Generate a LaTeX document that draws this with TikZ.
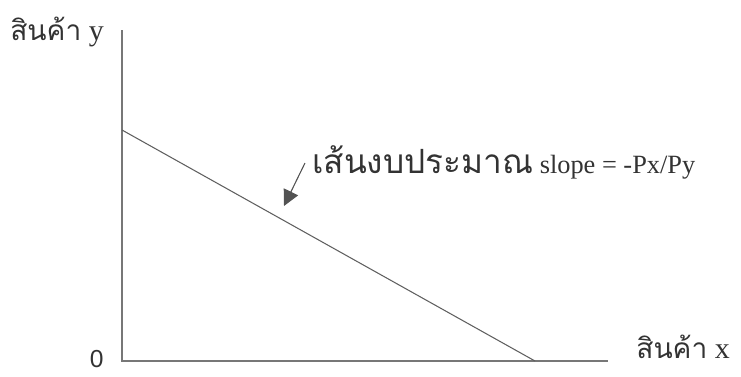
\documentclass[tikz,border=0pt]{standalone}
\usepackage{fontspec}
\setmainfont{Liberation Serif}
\newfontfamily\thaifont[Script=Thai]{Loma}
\newfontfamily\zerofont{Liberation Sans}
\usetikzlibrary{arrows.meta}
\definecolor{axisgray}{HTML}{777777}
\newcommand{\thaitext}[2]{{\thaifont\fontsize{#1}{#1}\selectfont #2}}
\newcommand{\lattext}[2]{{\fontsize{#1}{#1}\selectfont #2}}

\begin{document}
\begin{tikzpicture}[
    x=0.02cm, y=-0.02cm,
    axis/.style={draw=axisgray, line width=0.6pt},
    budget/.style={draw=axisgray!80!black, line width=0.6pt},
    pointer/.style={-{Triangle[length=9pt, width=9pt]}, draw=axisgray!70!black, fill=black, line width=0.6pt},
    lbl/.style={inner sep=0pt, text=black!80},
]
    \useasboundingbox (0,0) rectangle (741,376);

    % axes
    \coordinate (origin) at (122,361);
    \coordinate (ytop)   at (122,30);
    \coordinate (xend)   at (608,361);
    \draw[axis] (ytop) -- (origin) -- (xend);

    % budget line
    \coordinate (yint) at (122,130);
    \coordinate (xint) at (535,361);
    \draw[budget] (yint) -- (xint);

    % labels
    \node[lbl, anchor=base west] (ylabel) at (10,40) {\thaitext{16}{สินค้า}\lattext{17}{ y}};
    \node[lbl, anchor=base west] (xlabel) at (636,358) {\thaitext{16}{สินค้า}\lattext{17}{ x}};
    \node[lbl, anchor=base east] (zero)   at (104,367) {\lattext{14}{\zerofont 0}};
    \node[lbl, anchor=base west] (bltext) at (312,173) {\thaitext{19}{เส้นงบประมาณ}\lattext{15}{ slope = -Px/Py}};

    % pointer to the budget line
    \coordinate (ptail) at (305,163);
    \coordinate (ptip)  at (284,206);
    \draw[pointer] (ptail) -- (ptip);
\end{tikzpicture}
\end{document}
